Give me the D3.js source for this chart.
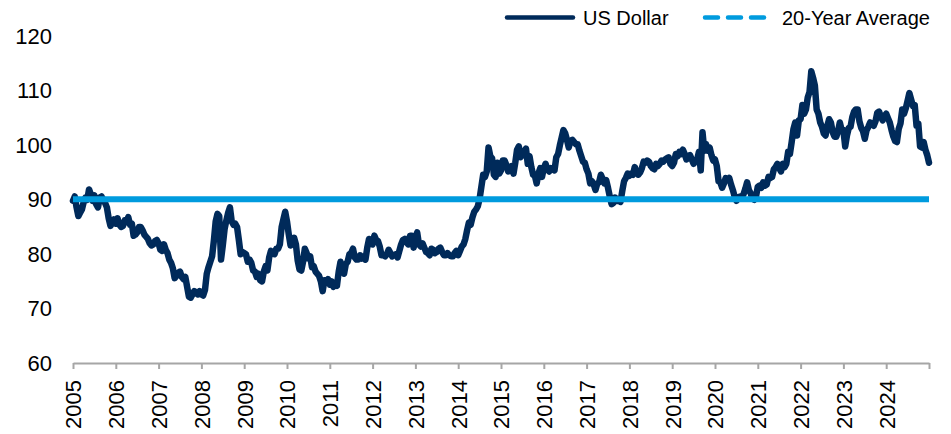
<!DOCTYPE html>
<html>
<head>
<meta charset="utf-8">
<script src="https://cdn.jsdelivr.net/npm/d3@7"></script>
<style>
  html, body { margin: 0; padding: 0; background: #fff; }
  svg { display: block; font-family: "Liberation Sans", Arial, sans-serif; }
</style>
</head>
<body>
<svg id="chart" width="951" height="434"></svg>
<script>
// ---- Data (semi-monthly readings, each axis-year row = 24 values) ----
const yearTicks = [2005, 2006, 2007, 2008, 2009, 2010, 2011, 2012, 2013, 2014, 2015,
                   2016, 2017, 2018, 2019, 2020, 2021, 2022, 2023, 2024, 2025];
const yTicks = [60, 70, 80, 90, 100, 110, 120];
const seriesNames = ["US Dollar", "20-Year Average"];
const avgValue = 90.1;
const usdStart = 89.8;
const usd2005 = [90.6, 88.6, 87.0, 87.6, 88.2, 89.6, 90.4, 90.0, 91.9, 91.0, 89.8, 90.8, 89.2, 88.6, 90.4, 90.6, 90.0, 89.4, 88.6, 86.6, 85.2, 85.8, 86.4, 85.6];
const usd2006 = [86.6, 85.4, 85.0, 85.2, 86.2, 85.9, 86.8, 85.4, 85.6, 83.4, 83.6, 84.0, 85.0, 85.0, 84.4, 83.6, 83.2, 82.8, 82.0, 81.6, 81.8, 82.4, 82.6, 82.0];
const usd2007 = [80.8, 80.6, 81.8, 80.8, 80.2, 79.0, 78.4, 77.4, 75.6, 76.0, 76.6, 76.8, 75.8, 75.4, 75.8, 74.0, 72.2, 72.0, 72.6, 73.2, 72.8, 72.6, 73.2, 72.6];
const usd2008 = [72.4, 73.4, 76.4, 77.6, 78.6, 79.6, 82.5, 86.0, 87.4, 87.0, 79.0, 81.6, 84.6, 86.2, 87.6, 88.6, 86.0, 85.4, 85.6, 85.0, 82.6, 80.0, 80.4, 80.2];
const usd2009 = [80.0, 78.6, 79.0, 78.4, 77.0, 76.8, 75.8, 76.4, 75.2, 75.0, 76.8, 77.8, 77.0, 79.4, 80.6, 80.4, 80.0, 81.0, 81.0, 81.8, 85.0, 86.4, 87.8, 86.0];
const usd2010 = [83.6, 81.6, 82.6, 83.0, 81.8, 78.8, 77.2, 77.0, 78.6, 81.0, 80.2, 79.2, 79.6, 77.6, 77.8, 76.8, 76.4, 76.0, 75.0, 73.2, 75.2, 74.8, 75.4, 74.4];
const usd2011 = [75.0, 74.0, 74.6, 74.2, 76.8, 78.6, 77.2, 76.4, 78.2, 78.6, 80.0, 80.2, 81.0, 79.4, 79.0, 79.0, 79.8, 79.2, 79.6, 79.0, 81.2, 82.8, 82.2, 81.8];
const usd2012 = [83.4, 82.6, 82.4, 81.4, 79.8, 79.8, 79.6, 80.0, 80.8, 80.2, 79.6, 79.8, 80.0, 79.4, 80.6, 81.8, 82.6, 82.8, 82.2, 81.8, 83.4, 83.4, 81.2, 83.0];
const usd2013 = [84.0, 81.8, 81.4, 82.0, 81.2, 80.4, 80.2, 79.8, 81.0, 80.8, 80.2, 80.4, 81.0, 81.2, 80.4, 79.8, 79.8, 80.2, 79.8, 79.6, 79.6, 80.2, 80.6, 79.8];
const usd2014 = [80.6, 81.4, 81.8, 82.8, 84.4, 85.8, 85.4, 86.8, 87.8, 88.2, 88.8, 90.2, 92.4, 94.6, 94.2, 95.2, 99.6, 98.0, 97.6, 94.6, 94.2, 96.8, 94.8, 95.4];
const usd2015 = [97.2, 97.2, 96.4, 95.2, 95.4, 96.2, 94.8, 96.8, 99.2, 99.8, 97.8, 98.4, 98.8, 99.4, 96.6, 98.0, 96.0, 94.6, 94.4, 93.0, 94.8, 95.8, 94.2, 95.8];
const usd2016 = [96.6, 95.6, 95.2, 95.8, 95.6, 95.4, 97.8, 98.4, 100.0, 101.4, 102.8, 102.2, 101.0, 99.6, 100.8, 101.0, 100.6, 100.2, 100.2, 99.0, 98.0, 97.0, 96.8, 95.6];
const usd2017 = [94.8, 93.0, 93.4, 92.8, 91.8, 93.0, 93.2, 94.6, 93.8, 93.0, 93.6, 92.2, 90.6, 89.2, 89.4, 90.4, 89.8, 90.0, 89.6, 91.6, 93.4, 94.0, 94.8, 94.4];
const usd2018 = [94.8, 94.6, 96.0, 95.2, 94.6, 95.0, 95.8, 97.0, 96.8, 97.2, 97.0, 96.2, 95.8, 95.6, 96.6, 96.2, 96.6, 97.2, 97.0, 97.4, 97.6, 97.8, 96.6, 96.2];
const usd2019 = [96.8, 98.4, 98.0, 98.8, 98.4, 99.2, 98.4, 97.4, 98.0, 98.2, 97.4, 96.6, 97.2, 97.4, 98.8, 95.4, 102.4, 99.0, 100.2, 99.0, 99.6, 98.2, 97.2, 97.4];
const usd2020 = [96.2, 93.4, 93.2, 92.2, 93.0, 94.0, 93.6, 94.0, 92.8, 91.8, 90.6, 89.8, 90.4, 90.6, 90.6, 91.0, 92.0, 93.2, 91.8, 91.2, 90.2, 90.0, 90.6, 92.4];
const usd2021 = [92.6, 92.2, 93.2, 92.6, 92.8, 94.2, 94.0, 94.2, 95.6, 96.0, 96.6, 95.8, 95.2, 96.6, 96.0, 96.6, 98.8, 98.4, 100.6, 103.0, 104.2, 101.8, 104.6, 104.8];
const usd2022 = [107.4, 105.8, 106.6, 108.8, 109.8, 113.6, 112.4, 111.0, 106.6, 105.8, 104.2, 103.4, 102.2, 101.8, 103.6, 104.8, 104.2, 102.4, 101.6, 101.6, 102.6, 104.2, 102.8, 102.8];
const usd2023 = [99.8, 101.8, 103.2, 103.4, 105.2, 106.2, 106.6, 106.6, 104.4, 103.2, 102.6, 101.2, 102.8, 103.4, 104.2, 104.0, 103.6, 104.4, 106.0, 106.2, 105.2, 104.6, 105.4, 105.8];
const usd2024 = [105.0, 104.2, 102.8, 101.6, 100.8, 100.6, 103.0, 104.0, 106.6, 105.8, 106.8, 108.2, 109.6, 108.4, 107.2, 107.4, 103.6, 104.0, 99.8, 99.6, 100.6, 99.2, 98.2, 96.8];

const usdValues = [usdStart].concat(
  usd2005, usd2006, usd2007, usd2008, usd2009, usd2010, usd2011, usd2012, usd2013, usd2014,
  usd2015, usd2016, usd2017, usd2018, usd2019, usd2020, usd2021, usd2022, usd2023, usd2024);
// position on the axis: one reading every half month starting at 2005
const usdPoints = usdValues.map((v, i) => ({ t: 2005 + i / 24, v }));

// ---- Drawing ----
const navy = "#002a5a";
const cyan = "#009bde";
const svg = d3.select("#chart");

const x = d3.scaleLinear().domain([2005, 2025]).range([73, 929]);
const y = d3.scaleLinear().domain([60, 120]).range([363, 36.5]);

// Y axis labels (no line)
const yAxis = svg.append("g")
  .attr("transform", "translate(73,0)")
  .call(d3.axisLeft(y).tickValues(yTicks).tickSize(0).tickPadding(21).tickFormat(d3.format("d")));
yAxis.select(".domain").remove();
yAxis.selectAll("text")
  .attr("fill", "#000")
  .style("font-size", "22px")
  .style("font-family", "'Liberation Sans', Arial, sans-serif");

// X axis
const xAxis = svg.append("g")
  .attr("transform", "translate(0,363)")
  .call(d3.axisBottom(x).tickValues(yearTicks).tickSize(6).tickSizeOuter(0)
    .tickFormat(d => d < 2025 ? String(d) : ""));
xAxis.select(".domain").attr("stroke", "#a6a6a6").attr("stroke-width", 2);
xAxis.selectAll(".tick line").attr("stroke", "#a6a6a6").attr("stroke-width", 2);
xAxis.selectAll("text")
  .attr("fill", "#000")
  .attr("transform", "rotate(-90)")
  .attr("x", -17)
  .attr("y", 0)
  .attr("dy", "0.36em")
  .style("text-anchor", "end")
  .style("font-size", "22px")
  .style("font-family", "'Liberation Sans', Arial, sans-serif");

// US Dollar line
const line = d3.line().x(d => x(d.t)).y(d => y(d.v));
svg.append("path")
  .datum(usdPoints)
  .attr("fill", "none")
  .attr("stroke", navy)
  .attr("stroke-width", 6.5)
  .attr("stroke-linejoin", "round")
  .attr("stroke-linecap", "round")
  .attr("d", line);

// 20-year average
svg.append("line")
  .attr("x1", x(2005)).attr("x2", x(2025))
  .attr("y1", y(avgValue)).attr("y2", y(avgValue))
  .attr("stroke", cyan)
  .attr("stroke-width", 6);

// Legend
const legend = svg.append("g").style("font-size", "20px").attr("fill", "#000");
legend.append("line")
  .attr("x1", 507).attr("x2", 573).attr("y1", 17.5).attr("y2", 17.5)
  .attr("stroke", navy).attr("stroke-width", 4.5).attr("stroke-linecap", "round");
legend.append("text").attr("x", 583).attr("y", 24.5).text(seriesNames[0]);
legend.append("line")
  .attr("x1", 705).attr("x2", 766).attr("y1", 17.5).attr("y2", 17.5)
  .attr("stroke", cyan).attr("stroke-width", 4.5).attr("stroke-linecap", "round")
  .attr("stroke-dasharray", "13,10");
legend.append("text").attr("x", 782).attr("y", 24.5).text(seriesNames[1]);
</script>
</body>
</html>
